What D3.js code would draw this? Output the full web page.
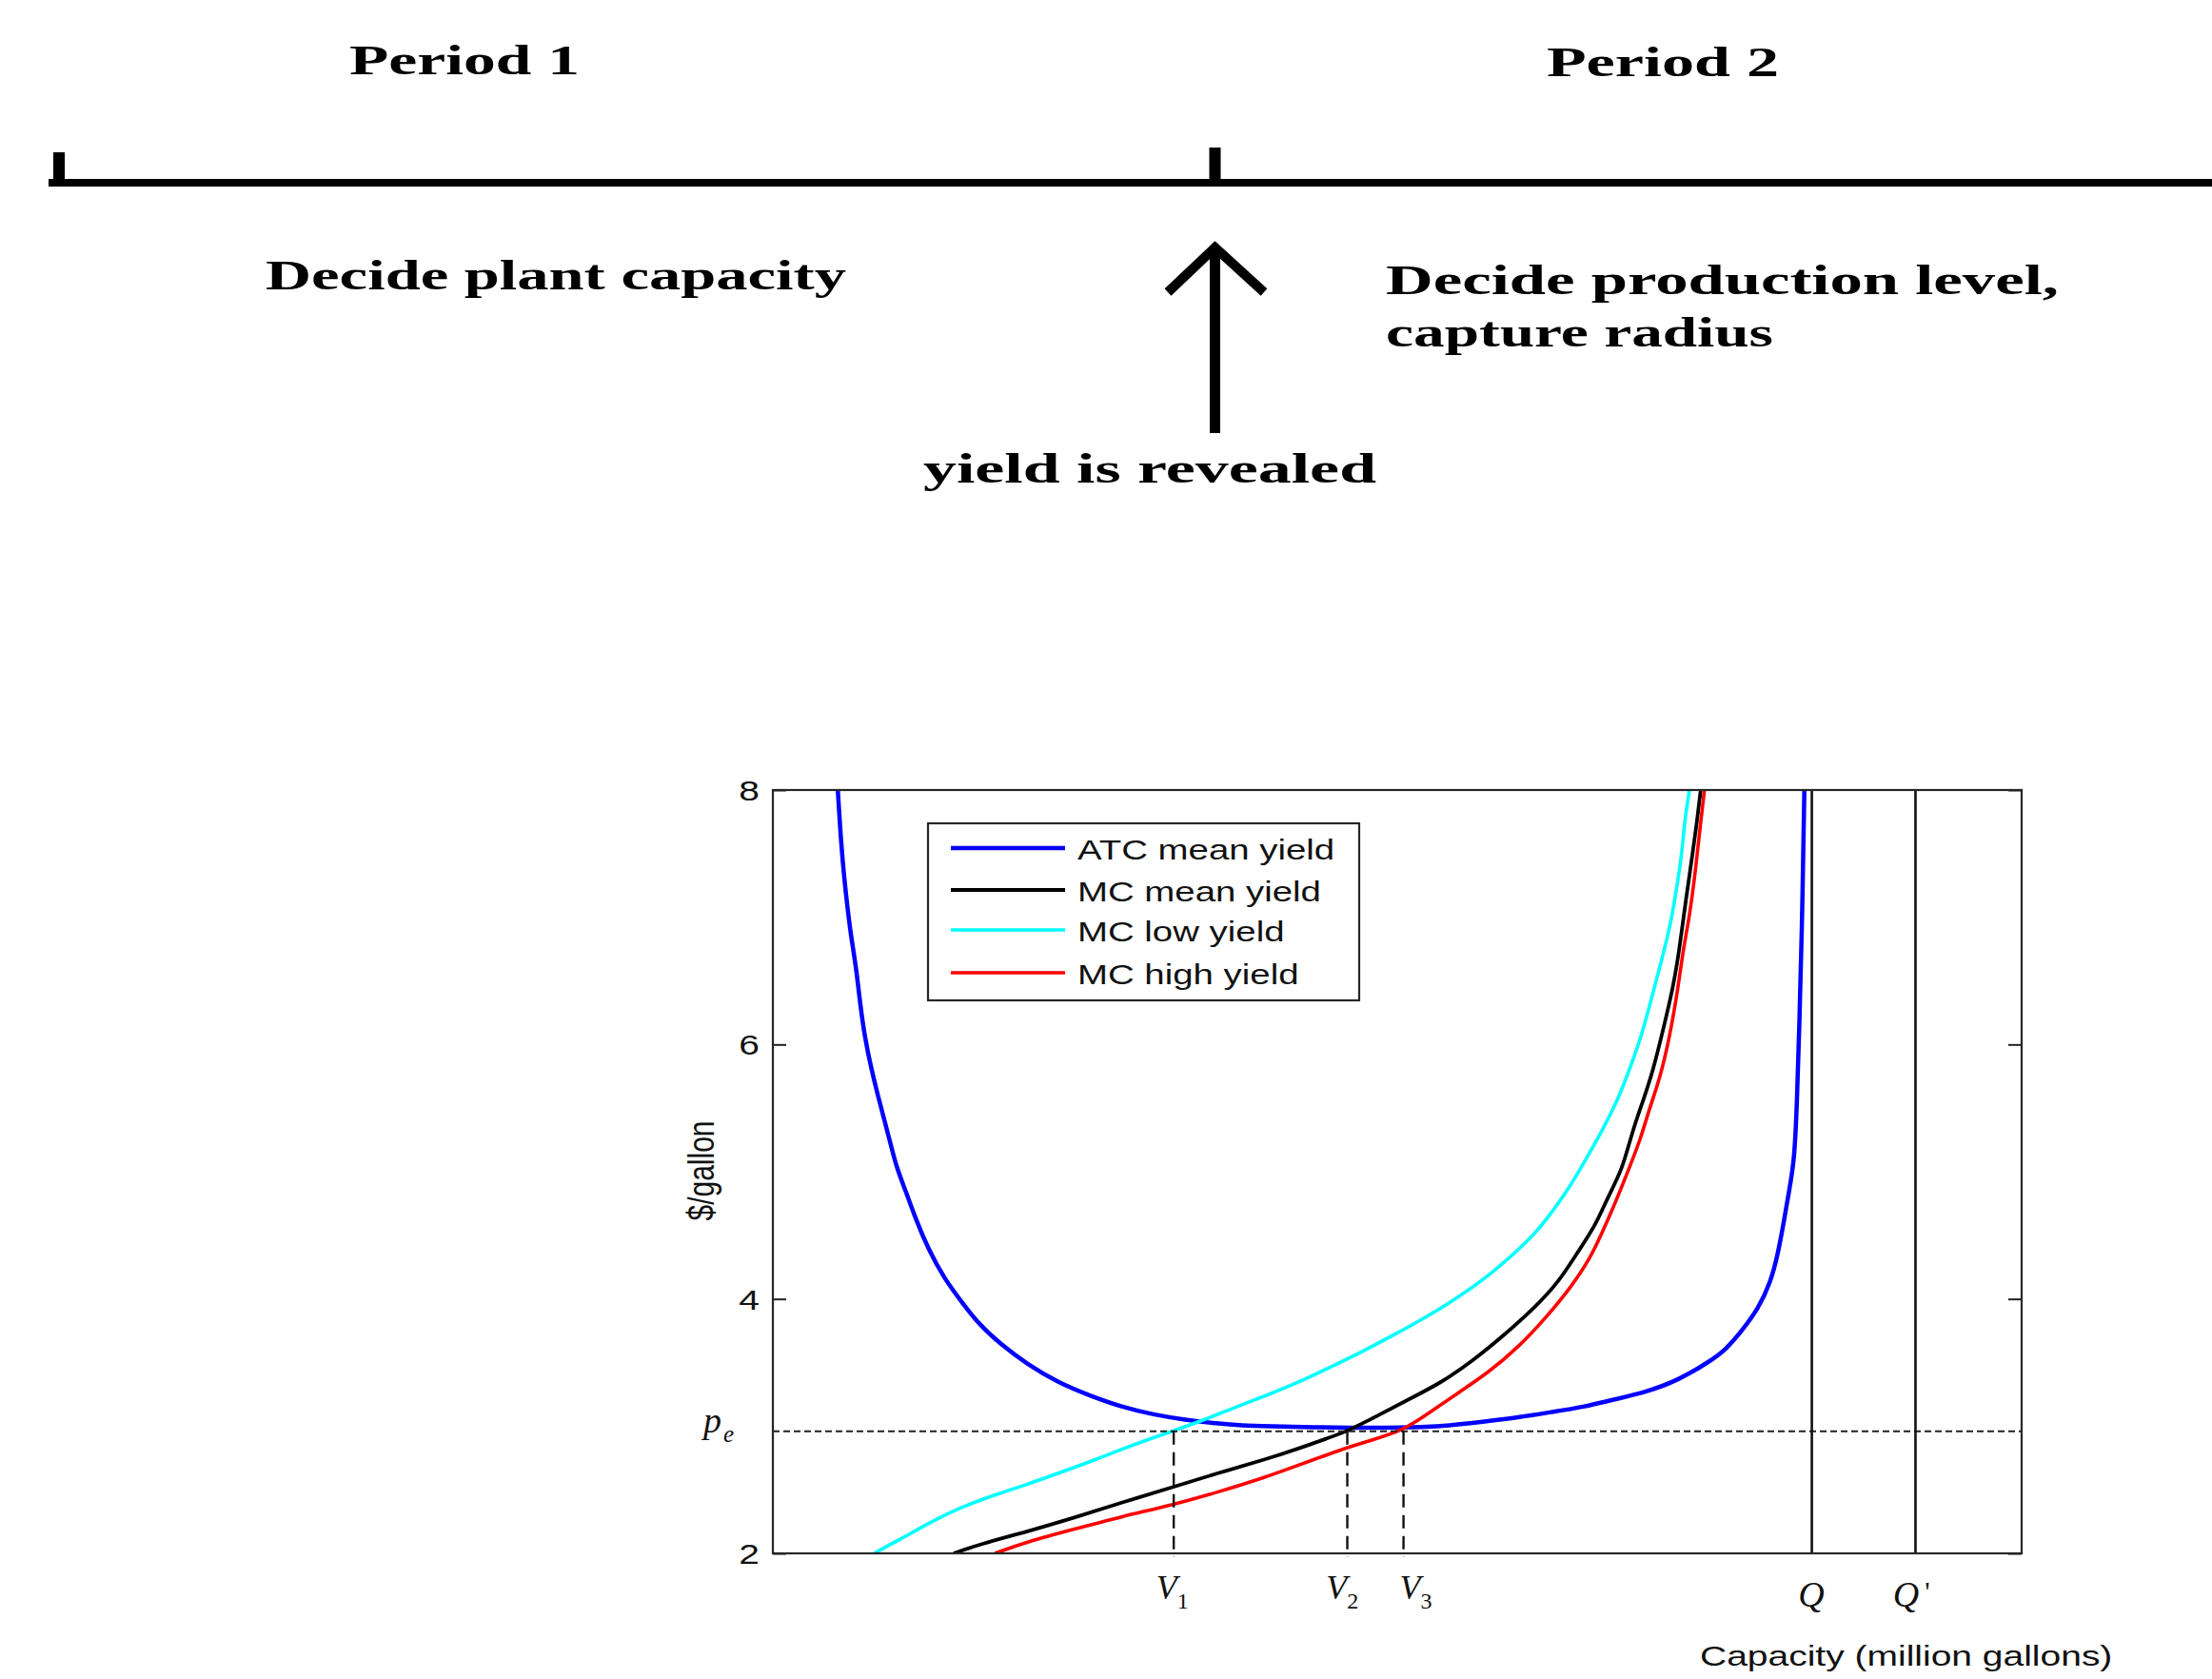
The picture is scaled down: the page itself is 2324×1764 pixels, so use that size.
<!DOCTYPE html>
<html>
<head>
<meta charset="utf-8">
<script src="https://cdn.jsdelivr.net/npm/d3@7"></script>
<style>
  body { margin: 0; background: #fff; }
  svg { display: block; }
</style>
</head>
<body>
<div id="chart"></div>
<script>

// ---- data ----
// capacity has no numeric scale in the figure, so it is kept in relative units 0..100
var atcCap  = [5.2, 5.45, 5.72, 5.97, 6.22, 6.48, 6.73, 6.99, 7.37, 7.88, 8.38, 8.89, 9.40, 9.91, 10.67, 11.43, 12.45, 13.72, 15.24, 16.51, 18.29, 20.32, 22.87, 25.38, 27.95, 30.49, 33.0, 35.57, 37.6, 39.6, 44.0, 48.0, 52.2, 54.7, 57.3, 59.8, 62.3, 64.9, 67.4, 70.0, 72.5, 75.05, 76.3, 77.6, 78.9, 79.9, 80.5, 81.0, 81.4, 81.8, 82.0, 82.2, 82.4, 82.6];
var atcCost = [8.0, 7.6, 7.3, 7.08, 6.88, 6.72, 6.55, 6.32, 6.05, 5.81, 5.61, 5.42, 5.23, 5.03, 4.84, 4.63, 4.39, 4.16, 3.96, 3.80, 3.64, 3.49, 3.34, 3.24, 3.15, 3.09, 3.05, 3.02, 3.005, 3.0, 2.99, 2.985, 2.99, 3.01, 3.04, 3.07, 3.11, 3.15, 3.21, 3.27, 3.36, 3.51, 3.60, 3.75, 3.92, 4.13, 4.36, 4.63, 4.86, 5.09, 5.51, 6.16, 6.85, 8.0];

var mcMeanCap  = [14.48, 16.5, 20.32, 24.13, 27.95, 32.0, 35.6, 39.5, 42.0, 44.56, 46.0, 48.4, 50.9, 53.5, 56.0, 58.5, 61.1, 62.9, 64.4, 65.9, 66.9, 68.0, 68.8, 69.7, 70.5, 71.25, 72.1, 72.6, 73.1, 73.65, 74.0, 74.3];
var mcMeanCost = [2.0, 2.07, 2.17, 2.28, 2.40, 2.52, 2.63, 2.74, 2.82, 2.91, 2.96, 3.08, 3.21, 3.34, 3.51, 3.71, 3.94, 4.13, 4.36, 4.58, 4.81, 5.01, 5.31, 5.56, 5.80, 6.10, 6.45, 6.75, 7.13, 7.50, 7.75, 8.0];

var mcLowCap  = [8.13, 9.40, 10.93, 12.70, 15.24, 17.78, 20.32, 22.87, 25.41, 27.95, 30.49, 32.0, 34.3, 36.8, 39.5, 42.0, 44.56, 47.1, 49.6, 52.2, 54.7, 57.3, 59.3, 61.1, 62.3, 63.6, 64.6, 66.4, 67.7, 68.7, 69.5, 70.2, 71.0, 71.8, 72.3, 72.8, 73.0, 73.4];
var mcLowCost = [2.0, 2.07, 2.15, 2.25, 2.37, 2.46, 2.54, 2.63, 2.72, 2.82, 2.91, 2.96, 3.04, 3.14, 3.24, 3.34, 3.46, 3.58, 3.71, 3.85, 4.00, 4.18, 4.35, 4.52, 4.67, 4.85, 5.01, 5.32, 5.57, 5.83, 6.05, 6.30, 6.60, 6.90, 7.18, 7.50, 7.75, 8.0];

var mcHighCap  = [17.78, 20.32, 24.13, 27.95, 32.0, 35.6, 39.5, 42.0, 45.6, 48.0, 50.5, 52.2, 54.7, 57.3, 59.8, 61.8, 63.9, 65.4, 66.4, 67.4, 68.5, 69.5, 70.2, 71.0, 71.8, 72.5, 72.9, 73.4, 73.9, 74.3, 74.6];
var mcHighCost = [2.0, 2.09, 2.19, 2.29, 2.38, 2.48, 2.60, 2.69, 2.82, 2.89, 2.97, 3.08, 3.25, 3.42, 3.63, 3.84, 4.09, 4.31, 4.52, 4.74, 5.01, 5.26, 5.50, 5.72, 6.05, 6.45, 6.75, 7.0, 7.38, 7.75, 8.0];

var seriesNames  = ["ATC mean yield", "MC mean yield", "MC low yield", "MC high yield"];
var seriesColors = ["#0000ff", "#000000", "#00ffff", "#ff0000"];

var yTicks = [2, 4, 6, 8];
var pe = 2.96;                       // equilibrium price
var vCap = [32.1, 46.0, 50.5];       // V1, V2, V3
var vSubs = ["1", "2", "3"];
var vLabelCap = [30.7, 44.3, 50.2];
var qCap = [83.2, 91.5];             // Q, Q'
var qLabels = ["Q", "Q'"];
var qLabelCap = [82.1, 89.7];

// timeline texts
var periodLabels = ["Period 1", "Period 2"];
var stageLabels  = ["Decide plant capacity", "Decide production level,", "capture radius", "yield is revealed"];


var width = 2324, height = 1764;
var svg = d3.select("#chart").append("svg")
            .attr("width", width)
            .attr("height", height);

svg.append("rect").attr("width", width).attr("height", height).attr("fill", "#fff");

// ---------------- timeline (top) ----------------
var serif = "'Liberation Serif', 'Times New Roman', serif";

function topText(str, x, y, len) {
  svg.append("text")
     .attr("x", x).attr("y", y)
     .attr("textLength", len)
     .attr("lengthAdjust", "spacingAndGlyphs")
     .style("font-family", serif)
     .style("font-weight", "bold")
     .style("font-size", "44px")
     .text(str);
}

topText(periodLabels[0], 367, 78, 242);
topText(periodLabels[1], 1625, 80, 244);
topText(stageLabels[0], 279, 304, 610);
topText(stageLabels[1], 1456, 309, 707);
topText(stageLabels[2], 1456, 364, 407);
topText(stageLabels[3], 970, 507, 476);

svg.append("line")
   .attr("x1", 51).attr("x2", width)
   .attr("y1", 192).attr("y2", 192)
   .attr("stroke", "#000").attr("stroke-width", 8);

svg.append("line")          // left end tick
   .attr("x1", 62).attr("x2", 62)
   .attr("y1", 160).attr("y2", 192)
   .attr("stroke", "#000").attr("stroke-width", 12);

svg.append("line")          // middle tick
   .attr("x1", 1276.5).attr("x2", 1276.5)
   .attr("y1", 155).attr("y2", 192)
   .attr("stroke", "#000").attr("stroke-width", 12);

// arrow
svg.append("line")
   .attr("x1", 1276.5).attr("x2", 1276.5)
   .attr("y1", 264).attr("y2", 455)
   .attr("stroke", "#000").attr("stroke-width", 11);
svg.append("polyline")
   .attr("points", "1227,307 1276.5,260 1328,307")
   .attr("fill", "none")
   .attr("stroke", "#000").attr("stroke-width", 10)
   .attr("stroke-linejoin", "miter");


// ---------------- cost chart ----------------
var plotL = 812, plotR = 2124, plotT = 830, plotB = 1632;
var sans = "'Liberation Sans', Arial, sans-serif";
var stretch = 1.3;

var x = d3.scaleLinear().domain([0, 100]).range([plotL, plotR]);
var y = d3.scaleLinear().domain([2, 8]).range([plotB, plotT]);

var series = [
  {cap: atcCap,    cost: atcCost,    width: 4.5},
  {cap: mcMeanCap, cost: mcMeanCost, width: 3.8},
  {cap: mcLowCap,  cost: mcLowCost,  width: 3.6},
  {cap: mcHighCap, cost: mcHighCost, width: 3.6}
].map(function(s, i) {
  s.name = seriesNames[i];
  s.color = seriesColors[i];
  s.points = s.cap.map(function(c, j) { return [c, s.cost[j]]; });
  return s;
});

svg.append("clipPath").attr("id", "plotclip")
   .append("rect")
   .attr("x", plotL).attr("y", plotT)
   .attr("width", plotR - plotL).attr("height", plotB - plotT);

// y axes (ticks inward, MATLAB box style)
var yAxisL = svg.append("g")
    .attr("transform", "translate(" + plotL + ",0)")
    .call(d3.axisLeft(y).tickValues(yTicks).tickSize(-14).tickPadding(0).tickFormat(d3.format("d")));
yAxisL.select(".domain").remove();
yAxisL.selectAll("line").attr("stroke", "#222").attr("stroke-width", 2);
yAxisL.selectAll("text")
    .attr("x", 0).attr("dy", "0.35em")
    .attr("transform", "translate(-14,0) scale(" + stretch + ",1)")
    .style("font-family", sans).style("font-size", "30px").attr("fill", "#111");

var yAxisR = svg.append("g")
    .attr("transform", "translate(" + plotR + ",0)")
    .call(d3.axisRight(y).tickValues(yTicks).tickSize(-14).tickFormat(""));
yAxisR.select(".domain").remove();
yAxisR.selectAll("line").attr("stroke", "#222").attr("stroke-width", 2);

// curves
var line = d3.line()
    .x(function(d) { return x(d[0]); })
    .y(function(d) { return y(d[1]); })
    .curve(d3.curveBasis);

var curves = svg.append("g").attr("clip-path", "url(#plotclip)");
curves.selectAll("path")
      .data(series)
      .enter().append("path")
      .attr("d", function(d) { return line(d.points); })
      .attr("fill", "none")
      .attr("stroke", function(d) { return d.color; })
      .attr("stroke-width", function(d) { return d.width; })
      .attr("stroke-linejoin", "round");

// equilibrium price line
svg.append("line")
   .attr("x1", plotL).attr("x2", plotR)
   .attr("y1", y(pe)).attr("y2", y(pe))
   .attr("stroke", "#222").attr("stroke-width", 2)
   .attr("stroke-dasharray", "7,4");

// V1..V3 drop lines
svg.selectAll(".vline")
   .data(vCap)
   .enter().append("line")
   .attr("class", "vline")
   .attr("x1", function(d) { return x(d); })
   .attr("x2", function(d) { return x(d); })
   .attr("y1", y(pe)).attr("y2", plotB + 4)
   .attr("stroke", "#111").attr("stroke-width", 2.4)
   .attr("stroke-dasharray", "14,8");

// Q and Q' capacity lines
svg.selectAll(".qline")
   .data(qCap)
   .enter().append("line")
   .attr("class", "qline")
   .attr("x1", function(d) { return x(d); })
   .attr("x2", function(d) { return x(d); })
   .attr("y1", plotT).attr("y2", plotB)
   .attr("stroke", "#111").attr("stroke-width", 2.6);

// frame
svg.append("rect")
   .attr("x", plotL).attr("y", plotT)
   .attr("width", plotR - plotL).attr("height", plotB - plotT)
   .attr("fill", "none")
   .attr("stroke", "#262626").attr("stroke-width", 2.2);

// V labels
vLabelCap.forEach(function(c, i) {
  var t = svg.append("text")
     .attr("x", x(c)).attr("y", 1680)
     .style("font-family", serif).style("font-style", "italic")
     .style("font-size", "36px").attr("fill", "#111");
  t.append("tspan").text("V");
  t.append("tspan").attr("dy", 10).attr("dx", 0)
   .style("font-style", "normal").style("font-size", "24px").text(vSubs[i]);
});

// Q labels
qLabelCap.forEach(function(c, i) {
  var t = svg.append("text")
     .attr("x", x(c)).attr("y", 1688)
     .style("font-family", serif).style("font-style", "italic")
     .style("font-size", "38px").attr("fill", "#111");
  t.append("tspan").text(qLabels[i].charAt(0));
  if (qLabels[i].length > 1)
    t.append("tspan").attr("dx", 6).attr("dy", -6)
     .style("font-style", "normal").style("font-size", "30px").text(qLabels[i].slice(1));
});

// p_e label
var peText = svg.append("text")
   .attr("x", 739).attr("y", y(pe) + 1)
   .style("font-family", serif).style("font-style", "italic")
   .style("font-size", "38px").attr("fill", "#111");
peText.append("tspan").text("p");
peText.append("tspan").attr("dy", 10).attr("dx", 2).style("font-size", "25px").text("e");

// axis titles
svg.append("text")
   .attr("transform", "translate(1786,1750) scale(" + stretch + ",1)")
   .style("font-family", sans).style("font-size", "30px").attr("fill", "#111")
   .text("Capacity (million gallons)");

svg.append("text")
   .attr("transform", "translate(750," + ((plotT + plotB) / 2 - 1) + ") scale(" + stretch + ",1) rotate(-90)")
   .attr("text-anchor", "middle")
   .style("font-family", sans).style("font-size", "30px").attr("fill", "#111")
   .text("$/gallon");

// legend
var legend = svg.append("g");
legend.append("rect")
      .attr("x", 975).attr("y", 865)
      .attr("width", 453).attr("height", 186)
      .attr("fill", "#fff")
      .attr("stroke", "#262626").attr("stroke-width", 2.2);

var rowY = [891, 935, 977, 1022];
var item = legend.selectAll(".item")
      .data(series)
      .enter().append("g")
      .attr("class", "item");

item.append("line")
    .attr("x1", 999).attr("x2", 1119)
    .attr("y1", function(d, i) { return rowY[i]; })
    .attr("y2", function(d, i) { return rowY[i]; })
    .attr("stroke", function(d) { return d.color; })
    .attr("stroke-width", function(d) { return d.width; });

item.append("text")
    .attr("transform", function(d, i) { return "translate(1132," + (rowY[i] + 12) + ") scale(1.28,1)"; })
    .style("font-family", sans).style("font-size", "30px").attr("fill", "#111")
    .text(function(d) { return d.name; });

</script>
</body>
</html>
